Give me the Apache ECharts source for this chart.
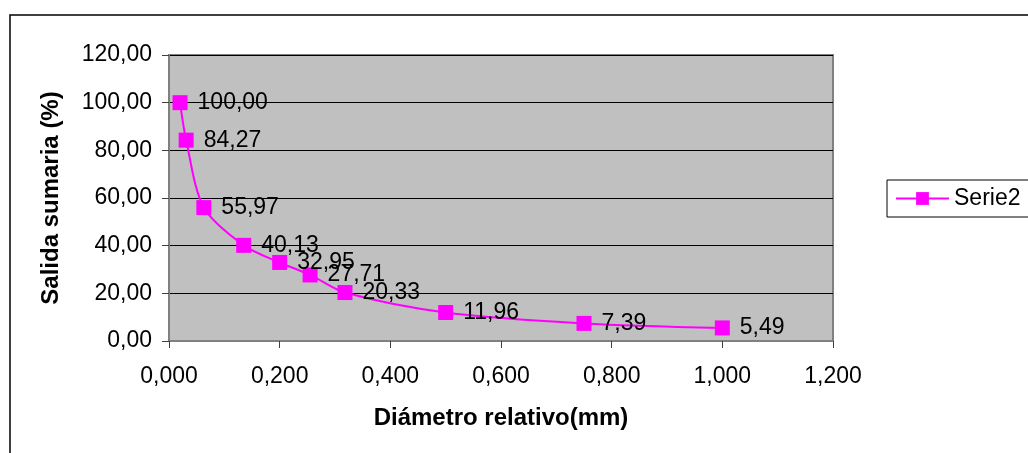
<!DOCTYPE html>
<html lang="es">
<head>
    <meta charset="UTF-8">
    <title>Salida sumaria</title>
    <script src="https://cdn.jsdelivr.net/npm/echarts@6/dist/echarts.min.js"></script>
    <style>
        html, body { margin: 0; padding: 0; background: #fff; }
    </style>
</head>
<body>
<div id="main" style="width: 1028px;height:453px;"></div>

<script type="text/javascript">
    // datos
    const diametro = [0.020, 0.031, 0.063, 0.135, 0.200, 0.255, 0.318, 0.500, 0.750, 1.000]
    const salida = [100.00, 84.27, 55.97, 40.13, 32.95, 27.71, 20.33, 11.96, 7.39, 5.49]
    const serieNombre = 'Serie2'

    const coma = (v, d) => v.toFixed(d).replace('.', ',')
    const fuente = 'Liberation Sans, Arial, sans-serif'

    const chart = echarts.init(document.getElementById('main'))

    const option = {
        animation: false,
        backgroundColor: '#fff',
        graphic: [{
            type: 'rect',
            shape: { x: 10, y: 15, width: 1100, height: 500 },
            style: { fill: 'none', stroke: '#000', lineWidth: 1.5 },
            silent: true
        }],
        grid: {
            left: 169, right: 195, top: 55, bottom: 112,
            show: true,
            backgroundColor: '#C0C0C0',
            borderColor: '#808080',
            borderWidth: 2
        },
        legend: {
            left: 887, top: 180,
            orient: 'vertical',
            padding: [7, 10, 7, 8],
            borderColor: '#000',
            borderWidth: 1,
            itemWidth: 53,
            itemHeight: 16,
            textStyle: { fontFamily: fuente, fontSize: 23, color: '#000' },
            data: [serieNombre]
        },
        xAxis: {
            type: 'value',
            min: 0, max: 1.2, interval: 0.2,
            name: 'Diámetro relativo(mm)',
            nameLocation: 'middle',
            nameGap: 65,
            nameTextStyle: { fontFamily: fuente, fontSize: 24, fontWeight: 'bold', color: '#000' },
            axisLine: { lineStyle: { color: '#808080', width: 2 } },
            axisTick: { show: true, length: 7, lineStyle: { color: '#404040' } },
            axisLabel: {
                margin: 24,
                fontFamily: fuente, fontSize: 23, color: '#000',
                formatter: v => coma(v, 3)
            },
            splitLine: { show: false }
        },
        yAxis: {
            type: 'value',
            min: 0, max: 120, interval: 20,
            name: 'Salida sumaria (%)',
            nameLocation: 'middle',
            nameGap: 106,
            nameTextStyle: { fontFamily: fuente, fontSize: 24, fontWeight: 'bold', color: '#000' },
            axisLine: { show: true, lineStyle: { color: '#808080', width: 2 } },
            axisTick: { show: true, length: 7, lineStyle: { color: '#404040' } },
            axisLabel: {
                margin: 17,
                fontFamily: fuente, fontSize: 23, color: '#000',
                formatter: v => coma(v, 2)
            },
            splitLine: { show: true, lineStyle: { color: '#000', width: 1 } }
        },
        series: [{
            name: serieNombre,
            type: 'line',
            data: diametro.map((x, i) => [x, salida[i]]),
            smooth: 0.3,
            symbol: 'rect',
            symbolSize: 15,
            lineStyle: { color: '#FF00FF', width: 2 },
            itemStyle: { color: '#FF00FF' },
            label: {
                show: true,
                position: 'right',
                distance: 10,
                fontFamily: fuente, fontSize: 23, color: '#000',
                formatter: p => coma(p.value[1], 2)
            }
        }]
    }

    chart.setOption(option)
</script>
</body>
</html>
